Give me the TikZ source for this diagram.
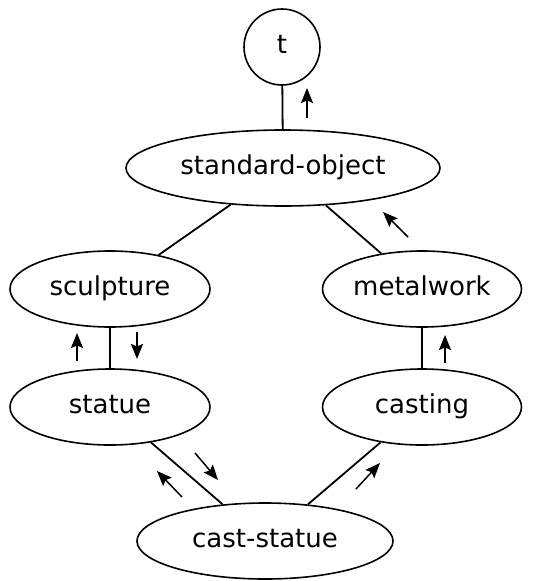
\documentclass[tikz,border=0pt]{standalone}
\usepackage{fontspec}
\setmainfont{DejaVu Sans}
\usepackage{tikz}
\usetikzlibrary{shapes}
\usetikzlibrary{arrows.meta}
\tikzset{
  class node/.style={ellipse,draw,line width=1.6pt,inner sep=0pt,minimum height=76pt,text height=18pt,text depth=6pt,font=\fontsize{26}{30}\selectfont},
  top node/.style={circle,draw,line width=1.6pt,inner sep=0pt,minimum size=76pt,text height=18pt,text depth=6pt,font=\fontsize{26}{30}\selectfont},
  link/.style={line width=1.8pt},
  hint/.style={->,>={Stealth[length=15pt,width=12pt,inset=2.5pt]},line width=1.5pt}
}

\begin{document}
\begin{tikzpicture}[x=1pt,y=-1pt]
		    \useasboundingbox (0,0) rectangle (558,581);
		    \node [top node] (t) at (282,47) {t};
		    \node [class node,minimum width=314pt] (so) at (283,168) {standard-object};
		    \node [class node,minimum width=200pt] (sculpture) at (110,289) {sculpture};
		    \node [class node,minimum width=199pt] (metalwork) at (422,289) {metalwork};
		    \node [class node,minimum width=200pt] (statue) at (110,407) {statue};
		    \node [class node,minimum width=199pt] (casting) at (422,407) {casting};
		    \node [class node,minimum width=256pt] (cs) at (265,541) {cast-statue};
		    % links
		    \draw [link] (t) -- (so);
		    \draw [link] (so) -- (sculpture);
		    \draw [link] (so) -- (metalwork);
		    \draw [link] (sculpture.south) -- (statue.north);
		    \draw [link] (metalwork.south) -- (casting.north);
		    \draw [link] (statue) -- (cs);
		    \draw [link] (casting) -- (cs);
		    % order of precedence
		    \coordinate (a1) at (307,118); \coordinate (b1) at (307,88);
		    \coordinate (a2) at (408,237); \coordinate (b2) at (383,212);
		    \coordinate (a3) at (77,361);  \coordinate (b3) at (77,333);
		    \coordinate (a4) at (137,332); \coordinate (b4) at (137,359);
		    \coordinate (a5) at (445,363); \coordinate (b5) at (445,335);
		    \coordinate (a6) at (195,453); \coordinate (b6) at (218,480);
		    \coordinate (a7) at (182,497); \coordinate (b7) at (157,471);
		    \coordinate (a8) at (356,489); \coordinate (b8) at (380,463);
		    \draw [hint] (a1) -- (b1);
		    \draw [hint] (a2) -- (b2);
		    \draw [hint] (a3) -- (b3);
		    \draw [hint] (a4) -- (b4);
		    \draw [hint] (a5) -- (b5);
		    \draw [hint] (a6) -- (b6);
		    \draw [hint] (a7) -- (b7);
		    \draw [hint] (a8) -- (b8);
\end{tikzpicture}
\end{document}
